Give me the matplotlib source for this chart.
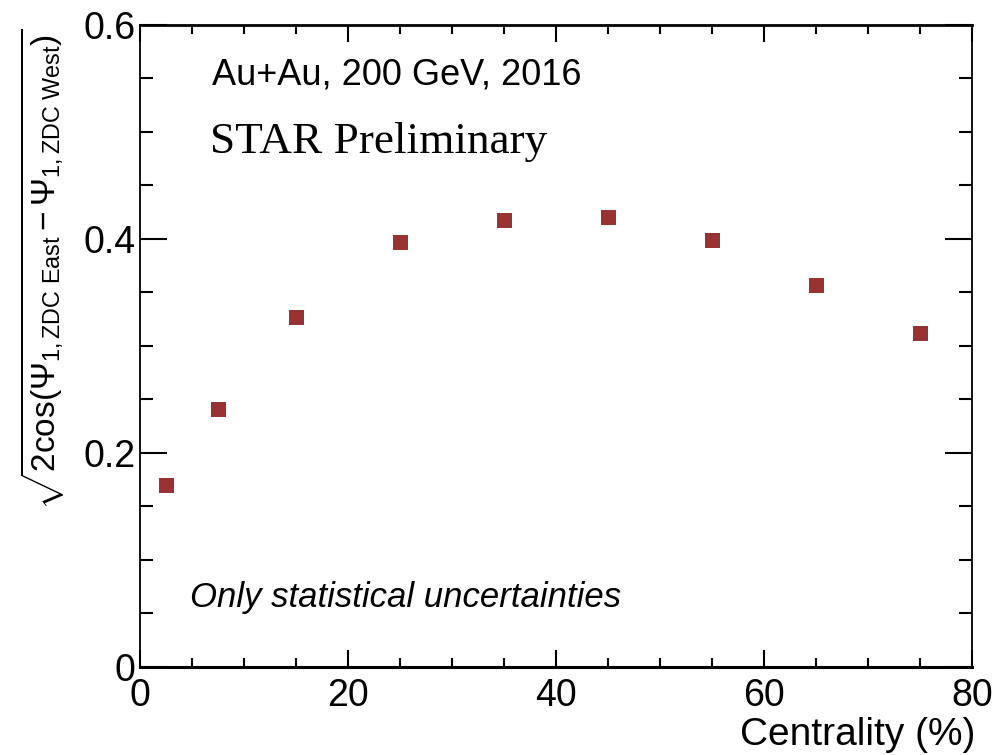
import matplotlib
matplotlib.use("Agg")
import matplotlib.pyplot as plt
from matplotlib.ticker import MultipleLocator, FuncFormatter

centrality = [2.5, 7.5, 15, 25, 35, 45, 55, 65, 75]
resolution = [0.170, 0.241, 0.327, 0.397, 0.418, 0.421, 0.399, 0.357, 0.312]

plt.rcParams['font.family'] = ['Liberation Sans', 'DejaVu Sans']
plt.rcParams['mathtext.fontset'] = 'custom'
plt.rcParams['mathtext.rm'] = 'Liberation Sans'
plt.rcParams['mathtext.it'] = 'Liberation Sans'
plt.rcParams['mathtext.sf'] = 'Liberation Sans'

fig = plt.figure(figsize=(9.97, 7.55), dpi=100)
ax = fig.add_axes([0.1404, 0.1166, 0.8345, 0.8503])

ax.plot(centrality, resolution, 's', color='#993333', markersize=10.8,
        markeredgewidth=0)

ax.set_xlim(0, 80)
ax.set_ylim(0, 0.6)
ax.set_xticks([0, 20, 40, 60, 80])
ax.set_yticks([0, 0.2, 0.4, 0.6])
ax.xaxis.set_minor_locator(MultipleLocator(5))
ax.yaxis.set_minor_locator(MultipleLocator(0.05))
ax.xaxis.set_major_formatter(FuncFormatter(lambda v, p: '%g' % v))
ax.yaxis.set_major_formatter(FuncFormatter(lambda v, p: '0' if abs(v) < 1e-9 else '%.1f' % v))

ax.tick_params(axis='x', which='major', direction='in', length=12.5, width=1.5,
               top=True, labelsize=27, pad=8)
ax.tick_params(axis='x', which='minor', direction='in', length=6.2, width=1.5,
               top=True)
ax.tick_params(axis='y', which='major', direction='in', length=19.5, width=1.5,
               right=True, labelsize=27, pad=3)
ax.tick_params(axis='y', which='minor', direction='in', length=9.5, width=1.5,
               right=True)

ax.spines['bottom'].set_linewidth(2.2)
ax.spines['top'].set_linewidth(2.0)
ax.spines['left'].set_linewidth(1.3)
ax.spines['right'].set_linewidth(1.3)

fig.text(212 / 997, 1 - 75 / 755, 'Au+Au, 200 GeV, 2016', fontsize=26,
         ha='left', va='center')
fig.text(210 / 997, 1 - 142 / 755, 'STAR Preliminary', fontsize=32.6,
         family='Liberation Serif', ha='left', va='center')
fig.text(190 / 997, 1 - 598 / 755, 'Only statistical uncertainties',
         fontsize=25, style='italic', ha='left', va='center')

fig.text(975 / 997, 1 - 735 / 755, 'Centrality (%)', fontsize=28,
         ha='right', va='center')

ylabel = (r'$\sqrt{2\mathrm{cos}(\Psi_{1,\mathrm{ZDC\ East}}'
          r' - \Psi_{1,\mathrm{ZDC\ West}})}$')
fig.text(42 / 997, 1 - 28 / 755, ylabel, fontsize=24, rotation=90,
         ha='center', va='top')

fig.savefig('out.png', dpi=100)
